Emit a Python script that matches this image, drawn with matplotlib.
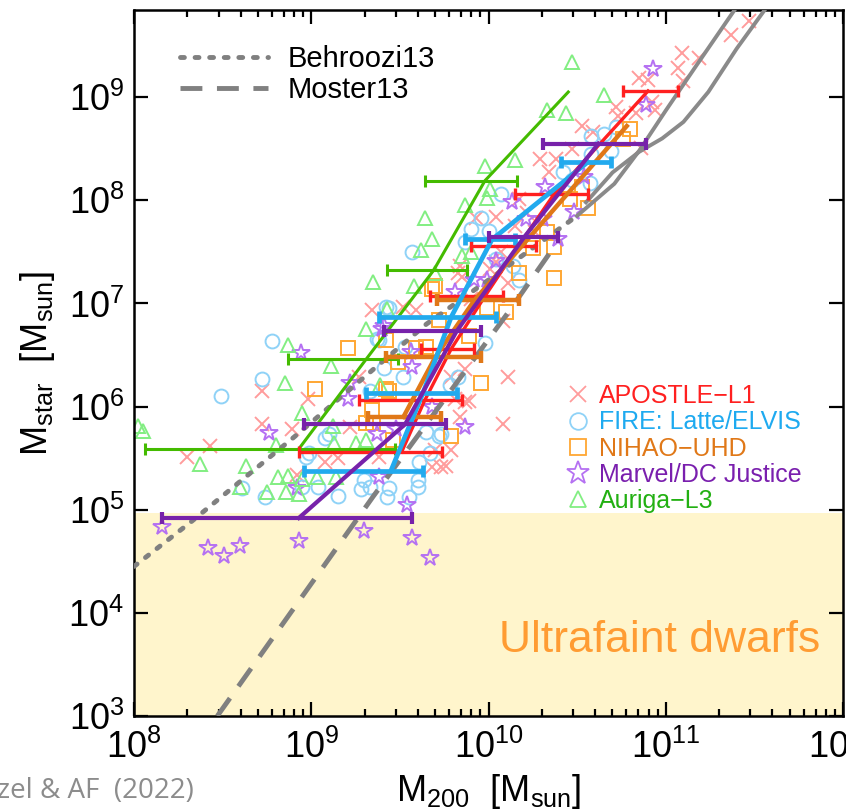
import numpy as np
import matplotlib
matplotlib.use("Agg")
import matplotlib.pyplot as plt
from matplotlib.lines import Line2D

plt.rcParams['font.family'] = ['Liberation Sans', 'DejaVu Sans']
plt.rcParams['mathtext.fontset'] = 'custom'
plt.rcParams['mathtext.rm'] = 'Liberation Sans'
plt.rcParams['mathtext.it'] = 'Liberation Sans'
plt.rcParams['mathtext.default'] = 'regular'

# ---- data (log10 M200, log10 Mstar) ----
apostle_lm200 = [8.72, 8.98, 8.72, 8.89, 8.43, 8.30, 9.08, 9.15, 9.34, 9.59, 9.22, 9.27, 9.38, 8.92,
                 11.47, 11.37, 11.09, 11.19, 11.07, 11.10, 10.85, 10.90, 10.92, 10.94, 10.72, 10.83,
                 10.73, 10.53, 10.59, 10.47, 10.29, 10.38, 10.34, 10.86, 9.93, 10.17, 10.22, 10.04,
                 10.15, 10.26, 10.07, 9.84, 9.85, 10.04, 10.11, 10.01, 10.11, 10.08, 9.89, 9.84,
                 9.79, 9.73, 9.68, 9.52, 9.83, 10.08, 9.87, 9.81, 9.79, 9.87, 9.90, 9.70, 9.76]
apostle_lmstar = [6.15, 6.07, 5.83, 5.78, 5.62, 5.51, 5.46, 5.50, 6.94, 6.94, 5.80, 6.29, 5.51, 5.34,
                  9.74, 9.60, 9.43, 9.38, 9.28, 9.16, 9.19, 9.17, 8.95, 8.88, 8.90, 8.85,
                  8.82, 8.72, 8.66, 8.50, 8.40, 8.40, 8.27, 8.51, 7.83, 8.01, 7.88, 7.84,
                  7.75, 7.69, 7.50, 7.36, 7.26, 7.40, 7.20, 7.33, 6.29, 5.83, 6.05, 5.90,
                  5.58, 5.41, 5.41, 6.97, 7.30, 6.83, 6.36, 6.07, 6.29, 6.04, 7.04, 5.58, 5.42]

fire_lm200 = [8.78, 8.72, 8.49, 9.57, 9.42, 9.37, 9.41, 8.61, 8.74, 8.95, 9.04, 9.15, 9.08, 9.28,
              9.33, 9.43, 9.55, 9.60, 8.97, 9.30, 9.44, 9.96, 9.90, 10.00, 9.87, 10.07,
              10.72, 10.65, 10.58, 10.69, 10.58, 10.42, 10.57, 10.47, 10.04, 10.14, 10.17,
              9.98, 9.83, 9.78, 9.61, 9.60, 9.73, 9.67, 9.44, 9.38, 9.53, 9.52, 9.33, 9.10,
              8.99, 9.65, 9.72]
fire_lmstar = [6.64, 6.27, 6.10, 7.50, 6.97, 6.66, 6.37, 5.21, 5.12, 5.22, 5.22, 5.13, 5.70, 5.20,
               5.22, 5.12, 5.12, 5.22, 5.51, 5.29, 5.21, 7.83, 7.72, 7.70, 7.60, 8.06,
               8.71, 8.64, 8.62, 8.48, 8.45, 8.27, 8.17, 8.20, 7.43, 7.36, 7.23,
               6.62, 6.29, 6.21, 5.46, 5.29, 5.73, 5.55, 6.96, 6.65, 6.58, 6.29, 6.15, 5.73,
               5.55, 5.75, 5.71]

nihao_lm200 = [9.21, 9.02, 9.34, 9.42, 9.31, 9.49, 9.59, 9.42, 9.46, 9.68,
               10.80, 10.76, 10.53, 10.46, 10.56, 10.33, 10.37, 10.37, 10.25, 10.17,
               9.96, 9.79, 10.10, 9.99, 9.89, 9.72, 9.70, 9.65, 9.44, 9.35]
nihao_lmstar = [6.57, 6.17, 5.97, 6.65, 5.84, 6.43, 6.57, 6.17, 5.68, 7.14,
                8.69, 8.59, 8.13, 8.01, 7.93, 7.69, 7.55, 7.25, 7.54, 7.30,
                6.23, 5.71, 6.92, 6.96, 6.68, 6.84, 7.17, 6.58, 6.15, 5.84]

marvel_lm200 = [8.94, 8.76, 9.21, 9.22, 8.92, 9.38, 9.54, 9.40, 9.56, 9.37,
                8.16, 8.42, 8.51, 8.60, 8.93, 9.30, 9.57, 9.67,
                10.93, 10.89, 10.54, 10.32, 10.48, 10.13, 10.21, 10.31, 10.04, 9.92, 10.39, 9.99,
                9.87, 9.68, 9.41, 9.57, 9.48, 9.81]
marvel_lmstar = [6.52, 5.74, 6.07, 6.23, 5.21, 5.32, 5.05, 6.75, 6.53, 5.73,
                 4.83, 4.63, 4.55, 4.65, 4.70, 4.79, 4.73, 4.53,
                 9.27, 8.92, 8.23, 8.13, 7.89, 7.98, 7.82, 7.82, 7.41, 7.23, 7.62, 7.23,
                 5.80, 6.00, 6.78, 6.38, 5.78, 7.11]

auriga_lm200 = [9.35, 9.58, 8.87, 9.11, 8.85, 8.95, 9.31, 9.43, 8.05, 8.02, 8.37, 8.63, 8.80, 9.13,
                8.81, 8.87, 8.95, 9.03, 9.14, 8.60, 8.75, 8.86, 8.93, 9.25, 9.31, 9.12, 9.39,
                9.98, 10.01, 9.99, 9.87, 9.64, 9.68, 9.62, 9.85, 9.90, 9.70,
                10.47, 10.65, 10.33, 10.44, 10.15]
auriga_lmstar = [7.21, 7.17, 6.60, 6.39, 6.23, 5.94, 6.75, 6.95, 5.76, 5.81, 5.44, 5.42, 5.63, 5.65,
                 5.32, 5.33, 5.30, 5.32, 5.32, 5.22, 5.17, 5.17, 5.15, 5.65, 5.68, 5.81, 6.21,
                 8.33, 8.11, 8.02, 7.95, 7.83, 7.62, 7.52, 7.46, 7.50, 7.30,
                 9.34, 9.02, 8.88, 8.85, 8.39]

# medians with horizontal ranges (log M200 lo / hi)
apostle_med_x = [9.51, 9.64, 9.79, 9.98, 10.17, 10.37, 10.90]
apostle_med_y = [5.56, 6.06, 6.56, 7.07, 7.56, 8.06, 9.06]
apostle_med_lo = [8.93, 9.27, 9.62, 9.67, 9.90, 10.15, 10.76]
apostle_med_hi = [9.74, 9.85, 9.92, 10.08, 10.27, 10.56, 11.07]

fire_med_x = [9.45, 9.63, 9.79, 10.02, 10.56]
fire_med_y = [5.38, 6.13, 6.87, 7.62, 8.37]
fire_med_lo = [8.96, 9.31, 9.38, 9.87, 10.41]
fire_med_hi = [9.63, 9.82, 10.04, 10.15, 10.69]

nihao_med_x = [9.52, 9.70, 9.92, 10.78]
nihao_med_y = [5.90, 6.48, 7.03, 8.72]
nihao_med_lo = [9.32, 9.42, 9.71, np.nan]
nihao_med_hi = [9.73, 9.96, 10.17, np.nan]

marvel_med_x = [8.93, 9.53, 9.82, 10.20, 10.62]
marvel_med_y = [4.92, 5.83, 6.73, 7.64, 8.55]
marvel_med_lo = [8.16, 8.96, 9.41, 10.00, 10.31]
marvel_med_hi = [9.57, 9.76, 9.96, 10.39, 10.89]

auriga_med_x = [8.93, 9.31, 9.69, 9.98, 10.45]
auriga_med_y = [5.59, 6.46, 7.32, 8.19, 9.05]
auriga_med_lo = [8.06, 8.87, 9.43, 9.64, np.nan]
auriga_med_hi = [9.47, 9.49, 9.88, 10.16, np.nan]

# abundance matching relations
behroozi_lm200 = [8.00, 8.32, 8.90, 9.37, 9.65, 10.10, 10.50, 10.71, 10.85, 11.00, 11.17, 11.39, 11.50]
behroozi_lmstar = [4.45, 4.88, 5.70, 6.39, 6.80, 7.35, 7.85, 8.16, 8.48, 8.87, 9.30, 9.85, 10.10]
behroozi_solid_from = 10.50
moster_lm200 = [8.47, 9.35, 10.11, 10.35, 10.55, 10.70, 10.85, 10.98, 11.10, 11.24, 11.40, 11.56, 11.65]
moster_lmstar = [3.00, 5.13, 6.91, 7.50, 7.98, 8.27, 8.47, 8.60, 8.76, 9.05, 9.47, 9.85, 10.05]
moster_solid_from = 10.40

ufd_limit = 9.3e4

sims = [
    ("APOSTLE\u2212L1", apostle_lm200, apostle_lmstar, 'x', '#ff9c9c', '#ff2020'),
    ("FIRE: Latte/ELVIS", fire_lm200, fire_lmstar, 'o', '#8fd2f7', '#1eaaf0'),
    ("NIHAO\u2212UHD", nihao_lm200, nihao_lmstar, 's', '#ffa733', '#e07818'),
    ("Marvel/DC Justice", marvel_lm200, marvel_lmstar, '*', '#b571f2', '#7a1fae'),
    ("Auriga\u2212L3", auriga_lm200, auriga_lmstar, '^', '#82ee82', '#22b012'),
]
meds = [
    (auriga_med_x, auriga_med_y, auriga_med_lo, auriga_med_hi, '#44bb00', 2.2),
    (apostle_med_x, apostle_med_y, apostle_med_lo, apostle_med_hi, '#ff2020', 2.4),
    (nihao_med_x, nihao_med_y, nihao_med_lo, nihao_med_hi, '#e07818', 3.2),
    (fire_med_x, fire_med_y, fire_med_lo, fire_med_hi, '#22aaee', 3.4),
    (marvel_med_x, marvel_med_y, marvel_med_lo, marvel_med_hi, '#7722aa', 3.0),
]

fig = plt.figure(figsize=(8.46, 8.11), dpi=100)
ax = fig.add_axes([134 / 846, 95 / 811, 709 / 846, 706 / 811])
ax.set_xscale('log')
ax.set_yscale('log')
ax.set_xlim(1e8, 1e12)
ax.set_ylim(1e3, 7e9)

ax.axhspan(1e3, ufd_limit, color='#fff5cc', zorder=0, lw=0)

for name, lx, ly, mk, col, tcol in sims:
    x = 10 ** np.array(lx)
    y = 10 ** np.array(ly)
    ms = 13 if mk == '*' else 10
    if mk == 'x':
        ax.plot(x, y, ls='none', marker=mk, ms=ms, mew=1.4, color=col, zorder=2)
    else:
        ax.plot(x, y, ls='none', marker=mk, ms=ms, mew=1.4, mfc='none', mec=col, zorder=2)

# gray relations
bx = np.array(behroozi_lm200)
by = np.array(behroozi_lmstar)
m = bx <= behroozi_solid_from
ax.plot(10 ** bx[m], 10 ** by[m], ls=(0, (0.8, 2.2)), color='#808080', lw=3.5, zorder=3,
        dash_capstyle='round')
m = bx >= behroozi_solid_from
ax.plot(10 ** bx[m], 10 ** by[m], ls='-', color='#8a8a8a', lw=2.8, zorder=3)
mx = np.array(moster_lm200)
my = np.array(moster_lmstar)
m = mx <= moster_solid_from
ax.plot(10 ** mx[m], 10 ** my[m], ls=(0, (4.5, 3)), color='#808080', lw=3.5, zorder=3)
m = mx >= moster_solid_from
ax.plot(10 ** mx[m], 10 ** my[m], ls='-', color='#8a8a8a', lw=2.8, zorder=3)

for mxv, myv, lo, hi, col, lw in meds:
    mxv = np.array(mxv); myv = np.array(myv)
    lo = np.array(lo); hi = np.array(hi)
    ax.plot(10 ** mxv, 10 ** myv, color=col, lw=lw, zorder=4)
    ok = np.isfinite(lo)
    xc = 10 ** mxv[ok]
    ax.errorbar(xc, 10 ** myv[ok], xerr=[xc - 10 ** lo[ok], 10 ** hi[ok] - xc], fmt='none',
                ecolor=col, elinewidth=lw, capsize=4, capthick=lw, zorder=4)

# legends
h1 = [Line2D([], [], color='#808080', lw=3.5, ls=(0, (0.8, 2.2)), dash_capstyle='round'),
      Line2D([], [], color='#808080', lw=3.5, ls=(0, (4.5, 3)))]
leg1 = ax.legend(h1, ['Behroozi13', 'Moster13'], loc='upper left', bbox_to_anchor=(0.065, 0.95),
                 frameon=False, fontsize=21, handlelength=3.0, handletextpad=0.7,
                 labelspacing=0.1, borderpad=0, borderaxespad=0)
ax.add_artist(leg1)

h2 = []
for name, lx, ly, mk, col, tcol in sims:
    if mk == 'x':
        h2.append(Line2D([], [], ls='none', marker=mk, ms=12, mew=1.3, color=col))
    else:
        h2.append(Line2D([], [], ls='none', marker=mk, ms=17 if mk == '*' else 12, mew=1.3,
                         mfc='none', mec=col))
leg2 = ax.legend(h2, [s[0] for s in sims], loc='upper left', bbox_to_anchor=(0.608, 0.47),
                 frameon=False, fontsize=18, handlelength=1.0, handletextpad=0.35,
                 labelspacing=0.09, borderpad=0, borderaxespad=0)
for t, s in zip(leg2.get_texts(), sims):
    t.set_color(s[5])

ax.text(0.742, 0.107, 'Ultrafaint dwarfs', transform=ax.transAxes, ha='center', va='center',
        fontsize=32, color='#ff9c33', zorder=5)

ax.tick_params(which='both', direction='in', top=True, right=True, width=1.6,
               labelsize=26, pad=7)
ax.tick_params(which='major', length=10)
ax.tick_params(which='minor', length=5)
ax.tick_params(axis='x', which='major', pad=10)
ax.yaxis.set_minor_locator(matplotlib.ticker.NullLocator())
for sp in ax.spines.values():
    sp.set_linewidth(1.8)

ax.set_xlabel(r'M$_{200}$  [M$_{sun}$]', fontsize=26, labelpad=4)
ax.set_ylabel(r'M$_{star}$  [M$_{sun}$]', fontsize=26, labelpad=8)

fig.text(-0.003, 0.008, 'zel & AF  (2022)', fontsize=20, color='#8c8c8c',
         family=['Open Sans', 'DejaVu Sans'], ha='left', va='bottom')

fig.savefig('out.png', dpi=100)
